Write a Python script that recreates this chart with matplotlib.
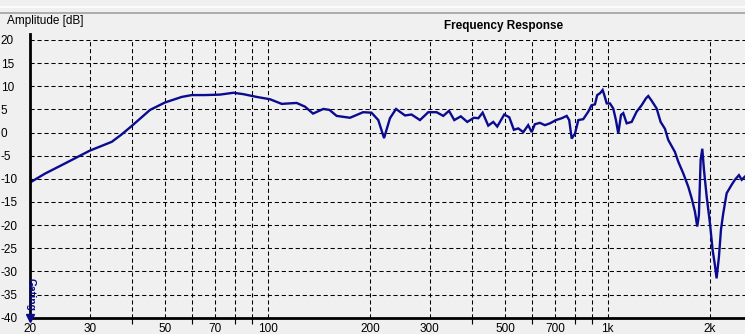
import numpy as np
import matplotlib
matplotlib.use('Agg')
import matplotlib.pyplot as plt
from matplotlib.lines import Line2D

# Frequency response (Hz, dB)
freq = [20, 22.1, 25.3, 30.0, 34.8, 37.2, 39.8, 45.1, 49.9, 55.9, 59.8, 65.4, 72.4,
        79.3, 84.8, 92.9, 101.6, 110, 121.7, 128.8, 136, 145.8, 152, 159.6, 174.7,
        191, 202, 211.6, 220, 229, 238.6, 253.5, 265, 280.6, 296.8, 314, 328.6,
        341.6, 354, 370, 386.6, 404.6, 416.6, 429, 445.6, 461, 473.6, 496.6, 513.8,
        530, 546, 565, 584, 598, 611, 632, 654, 677, 705, 733, 758, 771, 784, 802,
        820, 848, 877, 897, 918, 932, 950, 967, 978, 994, 1016, 1039, 1058, 1075,
        1095, 1112, 1138, 1177, 1217, 1259, 1297, 1317, 1347, 1394, 1432, 1475,
        1508, 1578, 1614, 1669, 1727, 1767, 1807, 1835, 1856, 1878, 1899, 1921,
        1956, 2000, 2037, 2068, 2092, 2126, 2155, 2188, 2240, 2316, 2368, 2434,
        2480, 2536]
amp = [-10.8, -8.9, -6.7, -3.9, -2.0, -0.4, 1.4, 4.9, 6.5, 7.7, 8.1, 8.1, 8.2,
       8.6, 8.3, 7.7, 7.2, 6.2, 6.4, 5.6, 4.1, 5.1, 4.9, 3.6, 3.2,
       4.4, 4.3, 2.7, -1.2, 3.1, 5.1, 3.7, 3.9, 2.7, 4.4, 4.4, 3.6,
       4.7, 2.7, 3.5, 2.3, 3.2, 3.1, 4.3, 1.5, 2.3, 1.3, 3.9, 3.3,
       0.6, 0.9, 0.1, 1.6, 0.1, 1.8, 2.1, 1.6, 2.0, 2.7, 3.1, 3.6, 2.7, -1.3, -0.2,
       2.7, 2.9, 4.5, 5.9, 6.1, 8.1, 8.5, 9.2, 8.1, 6.3, 6.3, 5.2, 2.7, -0.2,
       3.8, 4.2, 2.0, 2.3, 4.5, 5.9, 7.4, 7.9, 6.9, 5.2, 2.3, 0.8,
       -1.6, -4.2, -6.3, -8.8, -11.7, -14.2, -17.1, -20.3, -17.8, -5.9, -3.5, -8.1,
       -13.8, -19.6, -25.4, -28.6, -31.5, -26.8, -21.0, -17.5, -13.1, -11.3, -10.2, -9.2,
       -10.2, -9.5]

x_labeled = [20, 30, 50, 70, 100, 200, 300, 500, 700, 1000, 2000]
x_labels = ['20', '30', '50', '70', '100', '200', '300', '500', '700', '1k', '2k']
x_minor = [40, 60, 80, 90, 400, 600, 800, 900]
y_ticks = list(range(-40, 21, 5))

bg = '#f0f0f0'
navy = '#0b0b8f'
W, H = 745, 334

plt.rcParams['font.family'] = ['Liberation Sans', 'DejaVu Sans']

fig = plt.figure(figsize=(W / 100, H / 100), dpi=100, facecolor=bg)
ax = fig.add_axes([30 / W, (H - 317.7) / H, 715 / W, (317.7 - 40) / H])
ax.set_facecolor(bg)

ax.plot(freq, amp, color=navy, lw=1.7, solid_joinstyle='miter')

ax.set_xscale('log')
ax.set_xlim(20, 2536)
ax.set_ylim(-40, 20)

ax.set_xticks(x_labeled)
ax.set_xticklabels(x_labels)
ax.set_xticks(x_minor, minor=True)
ax.set_xticklabels([''] * len(x_minor), minor=True)
ax.tick_params(axis='x', which='major', length=0, pad=4, labelsize=8.5)
ax.tick_params(axis='x', which='minor', length=4, width=0.8, color='black', direction='out')

ax.set_yticks(y_ticks)
ax.set_yticklabels([str(v) for v in y_ticks], ha='left')
ax.tick_params(axis='y', length=0, pad=21, labelsize=8.5)

ax.grid(True, which='both', color='black', lw=0.75, ls=(0, (4, 2.7)))

for s in ['top', 'right']:
    ax.spines[s].set_visible(False)
for s in ['left', 'bottom']:
    ax.spines[s].set_linewidth(2)
    ax.spines[s].set_color('black')
ax.spines['left'].set_bounds(-40, 21.3)

# Header strip and texts
fig.add_artist(Line2D([0, 1], [1 - 7 / H, 1 - 7 / H], color='white', lw=1.2))
fig.add_artist(Line2D([0, 1], [1 - 13 / H, 1 - 13 / H], color='#a0a0a0', lw=1.2))
fig.text(7 / W, 1 - 21 / H, 'Amplitude [dB]', ha='left', va='center', fontsize=8.5)
fig.text(504 / W, 1 - 26 / H, 'Frequency Response', ha='center', va='center',
         fontsize=8.5, fontweight='bold')

# Gating marker
fig.text(31 / W, 1 - 295 / H, 'Gating', ha='center', va='center', rotation=270,
         color=navy, fontsize=7.5, fontweight='bold', zorder=10)
ax.plot([20], [-40], marker='v', color=navy, ms=6, clip_on=False, zorder=10)

plt.savefig('out.png', dpi=100, facecolor=bg)
